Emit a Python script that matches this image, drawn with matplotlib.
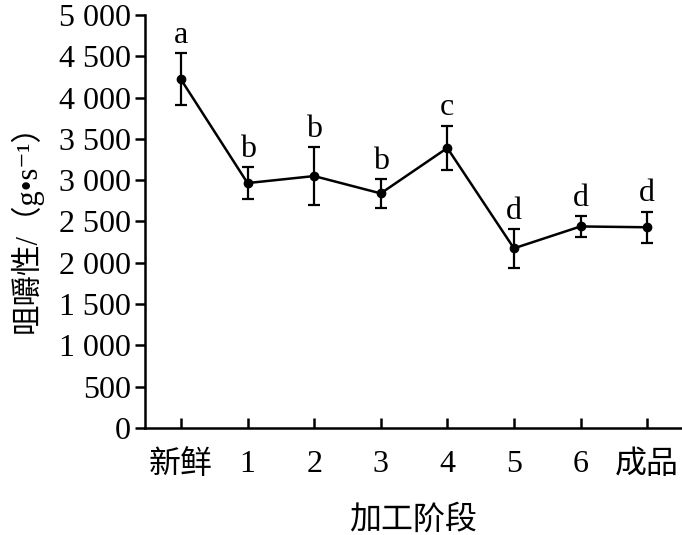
import numpy as np
import matplotlib.pyplot as plt
from matplotlib.ticker import FuncFormatter

plt.rcParams['font.family'] = ['Liberation Serif', 'Noto Sans CJK SC', 'DejaVu Sans']

stages = ["新鲜", "1", "2", "3", "4", "5", "6", "成品"]
chewiness = [4220, 2965, 3050, 2840, 3390, 2175, 2440, 2430]
err = [315, 190, 350, 175, 270, 235, 125, 190]
letters = ["a", "b", "b", "b", "c", "d", "d", "d"]


def _space_thousands(v, pos):
    s = f"{int(round(v)):,}"
    return s.replace(",", " ")


fig = plt.figure(figsize=(6.82, 5.35), dpi=100)
ax = fig.add_axes([0.2126, 0.2, 0.787, 0.772])

x = np.arange(len(stages))
ax.errorbar(x, chewiness, yerr=err, color="black", linewidth=1.8,
            marker="o", markersize=6, elinewidth=1.6, capsize=4.5, capthick=1.6)

for xi, yi, ei, lab in zip(x, chewiness, err, letters):
    ax.text(xi, yi + ei + 40, lab, ha="center", va="bottom", fontsize=23)

ax.set_xlim(-0.54, 7.52)
ax.set_ylim(0, 5000)
ax.set_yticks(np.arange(0, 5001, 500))
ax.yaxis.set_major_formatter(FuncFormatter(_space_thousands))
ax.set_xticks(x)
ax.set_xticklabels(stages)

for side in ["top", "right"]:
    ax.spines[side].set_visible(False)
for side in ["left", "bottom"]:
    ax.spines[side].set_linewidth(1.8)

ax.tick_params(axis="y", direction="out", length=7, width=1.8, labelsize=23, pad=3)
ax.tick_params(axis="x", direction="in", length=7, width=1.8, labelsize=23, pad=16)

ax.set_ylabel("咀嚼性/（g•s⁻¹）", fontsize=22, labelpad=12)
ax.set_xlabel("加工阶段", fontsize=23, labelpad=18)

fig.savefig("out.png", dpi=100)
